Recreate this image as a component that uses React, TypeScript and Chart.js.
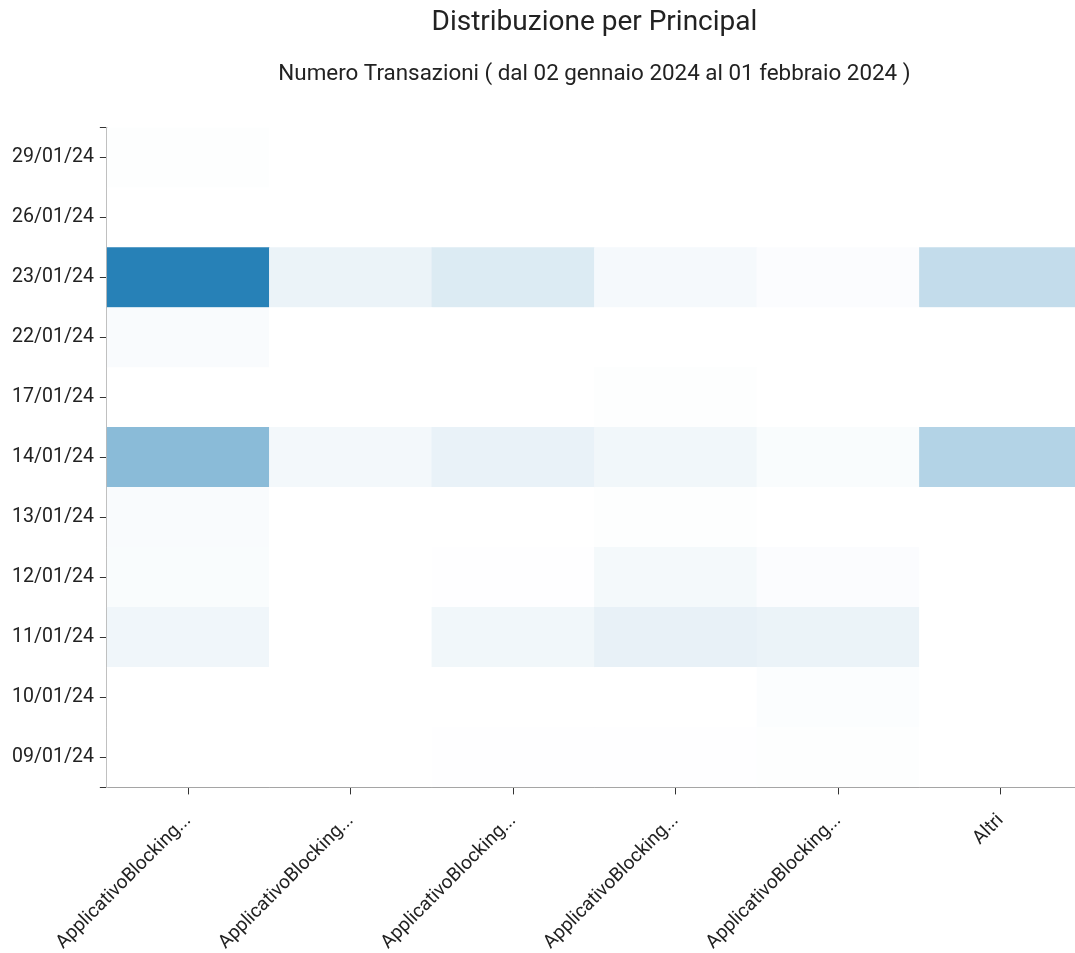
import React, { useEffect, useRef } from 'react';
import { Chart, registerables } from 'chart.js';

Chart.register(...registerables);

// Columns (principals)
const principals = [
  'ApplicativoBlocking...',
  'ApplicativoBlocking...',
  'ApplicativoBlocking...',
  'ApplicativoBlocking...',
  'ApplicativoBlocking...',
  'Altri',
];

// Rows (dates), bottom to top
const dates = [
  '09/01/24',
  '10/01/24',
  '11/01/24',
  '12/01/24',
  '13/01/24',
  '14/01/24',
  '17/01/24',
  '22/01/24',
  '23/01/24',
  '26/01/24',
  '29/01/24',
];

// Transaction counts per date row, one value per principal column
const row0901 = [0, 0, 2, 2, 3, 0];
const row1001 = [0, 0, 0, 0, 6, 0];
const row1101 = [24, 0, 22, 38, 33, 0];
const row1201 = [9, 0, 2, 18, 7, 0];
const row1301 = [10, 0, 0, 3, 0, 0];
const row1401 = [189, 19, 35, 22, 9, 123];
const row1701 = [0, 0, 0, 3, 0, 0];
const row2201 = [10, 0, 0, 0, 0, 0];
const row2301 = [350, 32, 56, 17, 7, 98];
const row2601 = [0, 0, 0, 0, 0, 0];
const row2901 = [3, 0, 0, 0, 0, 0];

const counts = [
  row0901, row1001, row1101, row1201, row1301, row1401,
  row1701, row2201, row2301, row2601, row2901,
];

const maxCount = Math.max(...counts.flat());
const lowRGB = [255, 255, 255];
const highRGB = [39, 129, 183];

function cellColor(v: number): string {
  const t = maxCount > 0 ? v / maxCount : 0;
  const c = lowRGB.map((l, i) => Math.round(l + (highRGB[i] - l) * t));
  return `rgb(${c[0]},${c[1]},${c[2]})`;
}

const FONT = 'Roboto, "Noto Sans", sans-serif';

export default function App() {
  const ref = useRef<HTMLCanvasElement>(null);

  useEffect(() => {
    document.documentElement.style.overflow = 'hidden';
    document.body.style.overflow = 'hidden';
    document.body.style.marginRight = '0px';
    if (!ref.current) return;
    const chart = new Chart(ref.current, {
      type: 'bar',
      data: {
        labels: principals,
        datasets: dates.map((d, i) => ({
          label: d,
          // each cell spans one row unit; the count drives its colour
          data: counts[i].map(() => 1),
          backgroundColor: counts[i].map(cellColor),
          borderWidth: 0,
          barPercentage: 1,
          categoryPercentage: 1,
          stack: 'grid',
        })),
      },
      options: {
        responsive: true,
        maintainAspectRatio: false,
        animation: false,
        layout: { padding: { left: -2, right: 26, top: 0, bottom: 0 } },
        plugins: {
          legend: { display: false },
          tooltip: { enabled: false },
          title: {
            display: true,
            fullSize: false,
            text: 'Distribuzione per Principal',
            color: '#222',
            font: { family: FONT, size: 28, weight: 'normal' },
            padding: { top: -2, bottom: 21 },
          },
          subtitle: {
            display: true,
            fullSize: false,
            text: 'Numero Transazioni ( dal 02 gennaio 2024 al 01 febbraio 2024 )',
            color: '#222',
            font: { family: FONT, size: 22.4, weight: 'normal' },
            padding: { top: 0, bottom: 40 },
          },
        },
        scales: {
          x: {
            stacked: true,
            afterFit: (axis: any) => {
              axis.paddingRight = 0;
            },
            grid: {
              display: true,
              drawOnChartArea: false,
              drawTicks: true,
              tickLength: 7,
              tickColor: '#333',
              offset: false,
            },
            border: { display: true, color: '#999', width: 2 },
            ticks: {
              minRotation: 45,
              maxRotation: 45,
              autoSkip: false,
              color: '#222',
              padding: 15,
              font: { family: FONT, size: 19 },
            },
          },
          y: {
            stacked: true,
            min: 0,
            max: 11,
            afterBuildTicks: (axis: any) => {
              axis.ticks = [{ value: 0 }]
                .concat(dates.map((_, i) => ({ value: i + 0.5 })))
                .concat([{ value: dates.length }]);
            },
            grid: {
              display: true,
              drawOnChartArea: false,
              drawTicks: true,
              tickLength: 7,
              tickColor: '#333',
            },
            border: { display: true, color: '#bbb', width: 1.5 },
            ticks: {
              autoSkip: false,
              color: '#222',
              padding: 6,
              font: { family: FONT, size: 19.5 },
              callback: (v: any) => {
                const n = Number(v);
                return Number.isInteger(n) ? '' : dates[Math.floor(n)];
              },
            },
          },
        },
      },
    });
    return () => chart.destroy();
  }, []);

  return (
    <div style={{ width: 1067, height: 945, overflow: 'hidden' }}>
      <div style={{ position: 'relative', width: 1100, height: 961 }}>
        <canvas ref={ref} />
      </div>
    </div>
  );
}
